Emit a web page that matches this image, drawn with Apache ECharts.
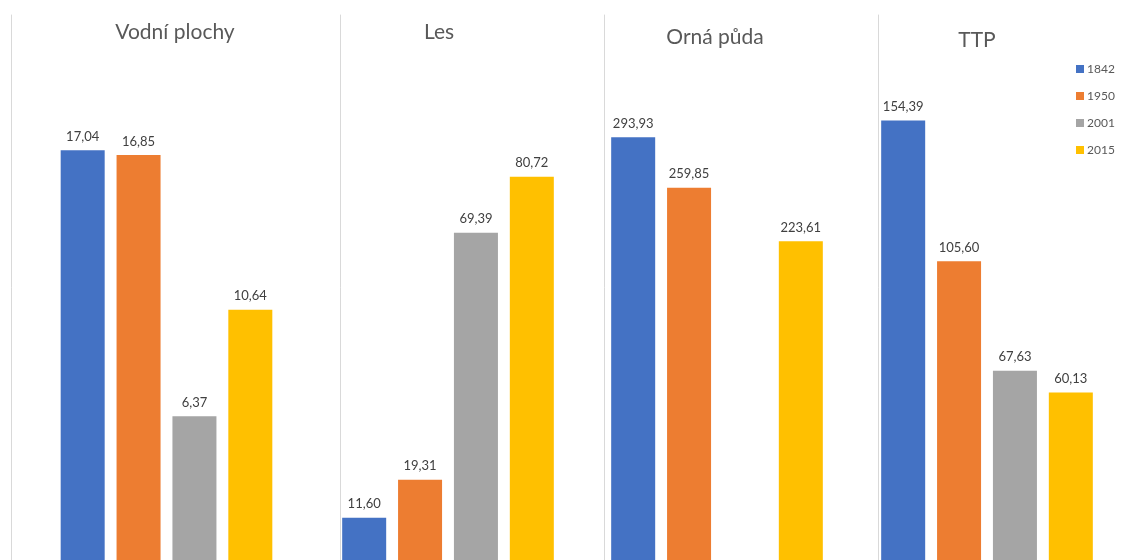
<!DOCTYPE html>
<html>
<head>
<meta charset="utf-8">
<title>Využití půdy</title>
<script src="https://cdn.jsdelivr.net/npm/echarts@6/dist/echarts.min.js"></script>
<style>
  html, body { margin: 0; padding: 0; background: #fff; }
  #main { width: 1131px; height: 560px; }
</style>
</head>
<body>
<div id="main"></div>
<script>
// kategorie (každá má vlastní graf) a roky
var categories = ['Vodní plochy', 'Les', 'Orná půda', 'TTP'];
var years = ['1842', '1950', '2001', '2015'];

// hodnoty podle roku, pořadí jako categories
var v1842 = [17.04, 11.60, 293.93, 154.39];
var v1950 = [16.85, 19.31, 259.85, 105.60];
var v2001 = [6.37, 69.39, null, 67.63];
var v2015 = [10.64, 80.72, 223.61, 60.13];

var colors = ['#4472C4', '#ED7D31', '#A5A5A5', '#FFC000'];

// rozložení panelů (osa y vlevo, spodek je mimo výřez)
var panelLeft = [11, 340, 604, 878];
var panelWidth = [311, 216, 226, 218];
var panelHeight = [560, 560, 557, 551];
var panelMax = [22.46, 113.5, 376.6, 190.9];
var titlePos = [[175, 32], [439, 32], [715, 37], [977, 40]];

function fmt(v) {
    return v.toFixed(2).replace('.', ',');
}

var myChart = echarts.init(document.getElementById('main'));

var grids = [], xAxes = [], yAxes = [], series = [], texts = [];
var allValues = [v1842, v1950, v2001, v2015];

for (var p = 0; p < categories.length; p++) {
    grids.push({
        left: panelLeft[p], top: 15, width: panelWidth[p], height: panelHeight[p],
        outerBoundsMode: 'none'
    });
    xAxes.push({
        gridIndex: p, type: 'category', data: [categories[p]], show: false
    });
    yAxes.push({
        gridIndex: p, type: 'value', min: 0, max: panelMax[p],
        axisLine: { show: true, lineStyle: { color: '#d9d9d9', width: 1 } },
        axisTick: { show: false }, axisLabel: { show: false }, splitLine: { show: false }
    });
    for (var y = 0; y < years.length; y++) {
        series.push({
            name: years[y],
            type: 'bar',
            xAxisIndex: p,
            yAxisIndex: p,
            barWidth: 44,
            barGap: '27%',
            itemStyle: { color: colors[y] },
            label: {
                show: true, position: 'top', distance: 7,
                fontFamily: 'Lato', fontSize: 13, color: '#404040',
                formatter: function (d) { return fmt(d.value); }
            },
            data: [allValues[y][p]]
        });
    }
    texts.push({
        type: 'text', x: titlePos[p][0], y: titlePos[p][1],
        style: {
            text: categories[p], align: 'center', verticalAlign: 'middle',
            font: '21px Lato', fill: '#595959'
        }
    });
}

var option = {
    animation: false,
    backgroundColor: '#ffffff',
    grid: grids,
    xAxis: xAxes,
    yAxis: yAxes,
    legend: {
        data: years,
        orient: 'vertical',
        left: 1071,
        top: 58,
        itemWidth: 8,
        itemHeight: 8,
        itemGap: 15,
        icon: 'rect',
        textStyle: { fontFamily: 'Lato', fontSize: 12, color: '#595959', padding: [0, 0, 0, -2] }
    },
    graphic: texts,
    series: series
};

myChart.setOption(option);
</script>
</body>
</html>
